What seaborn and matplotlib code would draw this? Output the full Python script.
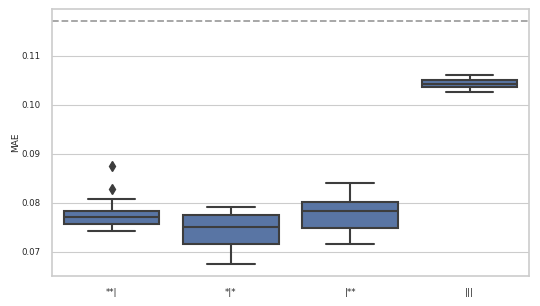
import numpy as np
import pandas as pd
import matplotlib
matplotlib.use('Agg')
import matplotlib.pyplot as plt
import seaborn as sns

# Значения MAE по конфигурациям
cfg_a = [0.0743, 0.0749, 0.0753, 0.0757, 0.0762, 0.0767, 0.0771, 0.0775, 0.0780, 0.0784, 0.0808, 0.0829, 0.0876]
cfg_b = [0.0676, 0.0702, 0.0716, 0.0738, 0.0751, 0.0765, 0.0776, 0.0785, 0.0792]
cfg_c = [0.0716, 0.0735, 0.0749, 0.0770, 0.0784, 0.0795, 0.0802, 0.0818, 0.0841]
cfg_d = [0.1026, 0.1032, 0.1037, 0.1040, 0.1043, 0.1047, 0.1051, 0.1055, 0.1061]
labels = ['**|', '*|*', '|**', '|||']
baseline = 0.1171

data = pd.DataFrame({
    'config': [labels[0]] * len(cfg_a) + [labels[1]] * len(cfg_b)
              + [labels[2]] * len(cfg_c) + [labels[3]] * len(cfg_d),
    'MAE': cfg_a + cfg_b + cfg_c + cfg_d,
})

sns.set_theme(style='whitegrid', context='paper')
plt.rcParams['font.family'] = ['DejaVu Sans']

fig = plt.figure(figsize=(5.4, 3.06), dpi=100)
ax = fig.add_axes([0.096, 0.098, 0.884, 0.873])

sns.boxplot(data=data, x='config', y='MAE', order=labels, color='#4c72b0',
            saturation=0.75, width=0.8, linewidth=1.5, linecolor='#3d3d3d',
            flierprops=dict(marker='d', markerfacecolor='#3d3d3d',
                            markeredgecolor='#3d3d3d', markersize=5),
            ax=ax)

ax.axhline(baseline, color='#a0a0a0', linestyle='--', linewidth=1.3)

ax.set_ylim(0.0651, 0.1196)
ax.set_yticks([0.07, 0.08, 0.09, 0.10, 0.11])
ax.set_yticklabels(['0.07', '0.08', '0.09', '0.10', '0.11'])
ax.set_xlabel('')
ax.set_ylabel('MAE', fontsize=6.5, labelpad=1)
ax.tick_params(axis='both', labelsize=6.2)
for s in ax.spines.values():
    s.set_color('#cccccc')
    s.set_linewidth(1.2)

fig.savefig('out.png', dpi=100)
